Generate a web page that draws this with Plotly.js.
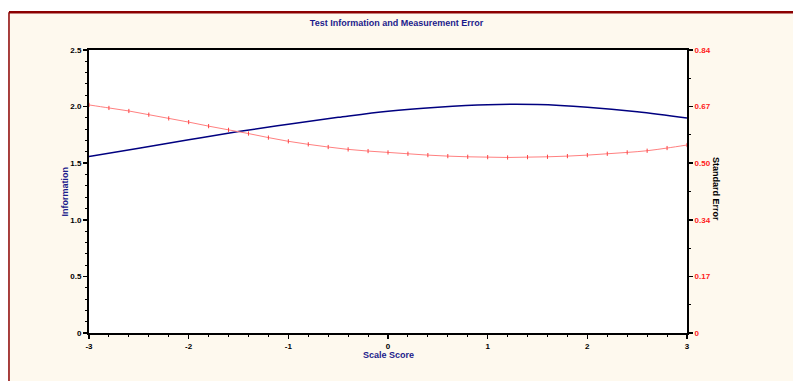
<!DOCTYPE html>
<html>
<head>
<meta charset="utf-8">
<script src="https://cdn.plot.ly/plotly-3.0.1.min.js"></script>
<style>html,body{margin:0;padding:0;background:#fff;}#chart{width:793px;height:381px;}</style>
</head>
<body>
<div id="chart"></div>
<script>
// Information curve (left axis)
const infoX = [-3, -2.5, -2, -1.5, -1, -0.5, 0, 0.5, 1, 1.5, 2, 2.5, 3];
const infoY = [1.56, 1.633, 1.707, 1.78, 1.845, 1.905, 1.96, 1.995, 2.017, 2.018, 1.995, 1.955, 1.90];
// Standard error curve (right axis)
const seX = [-3, -2.8, -2.6, -2.4, -2.2, -2, -1.8, -1.6, -1.4, -1.2, -1, -0.8, -0.6, -0.4, -0.2, 0,
             0.2, 0.4, 0.6, 0.8, 1, 1.2, 1.4, 1.6, 1.8, 2, 2.2, 2.4, 2.6, 2.8, 3];
const seY = [0.677, 0.668, 0.659, 0.648, 0.637, 0.626, 0.614, 0.603, 0.592, 0.580, 0.569, 0.560, 0.552, 0.545, 0.540, 0.536,
             0.532, 0.528, 0.525, 0.523, 0.522, 0.521, 0.522, 0.523, 0.525, 0.528, 0.532, 0.536, 0.541, 0.549, 0.558];
// Tick labels
const xTicks = [-3, -2, -1, 0, 1, 2, 3];
const xTickText = ['-3', '-2', '-1', '0', '1', '2', '3'];
const yTicks = [0, 0.5, 1, 1.5, 2, 2.5];
const yTickText = ['0', '0.5', '1.0', '1.5', '2.0', '2.5'];
const y2Ticks = [0, 0.168, 0.336, 0.504, 0.672, 0.84];
const y2TickText = ['0', '0.17', '0.34', '0.50', '0.67', '0.84'];

const F = 'Liberation Sans Narrow, Liberation Sans, Arial, sans-serif';
const navy = '#1c1c8c';

const traces = [
  {x: infoX, y: infoY, type: 'scatter', mode: 'lines', line: {color: '#000080', width: 1.5, shape: 'spline'}, yaxis: 'y', hoverinfo: 'skip'},
  {x: seX, y: seY, type: 'scatter', mode: 'lines+markers', line: {color: '#ff8080', width: 1, shape: 'spline'},
   marker: {symbol: 'line-ns-open', size: 3, color: '#ff4040', line: {color: '#ff4040', width: 1}}, yaxis: 'y2', hoverinfo: 'skip'}
];

const layout = {
  width: 793, height: 381,
  margin: {l: 89, r: 106, t: 50, b: 48},
  paper_bgcolor: '#fef9ee',
  plot_bgcolor: '#ffffff',
  showlegend: false,
  title: {text: '<b>Test Information and Measurement Error</b>', x: 0.5, xref: 'container', y: 0.94, yref: 'container', yanchor: 'middle',
          font: {family: F, size: 9, color: navy}},
  xaxis: {range: [-3, 3], tickvals: xTicks, ticktext: xTickText, ticks: 'outside', ticklen: 4, tickwidth: 1.5, tickcolor: '#000',
          showline: true, linewidth: 2, linecolor: '#000', mirror: true, showgrid: false, zeroline: false,
          minor: {dtick: 0.2, ticks: 'outside', ticklen: 2, tickcolor: '#000', tickwidth: 1},
          tickfont: {family: F, size: 8, color: '#000', weight: 'bold'}},
  yaxis: {range: [0, 2.5], tickvals: yTicks, ticktext: yTickText, ticks: 'outside', ticklen: 4, tickwidth: 1.5, tickcolor: '#000',
          showline: true, linewidth: 2, linecolor: '#000', showgrid: false, zeroline: false,
          minor: {dtick: 0.1, ticks: 'outside', ticklen: 2, tickcolor: '#000', tickwidth: 1},
          tickfont: {family: F, size: 8, color: '#000', weight: 'bold'}},
  yaxis2: {range: [0, 0.84], overlaying: 'y', side: 'right', tickvals: y2Ticks, ticktext: y2TickText, ticks: 'outside', ticklen: 4, tickwidth: 1.5, tickcolor: '#000',
           showline: true, linewidth: 2, linecolor: '#000', showgrid: false, zeroline: false,
           minor: {dtick: 0.084, ticks: 'outside', ticklen: 2, tickcolor: '#000', tickwidth: 1},
           tickfont: {family: F, size: 8, color: '#ff2020', weight: 'bold'}},
  annotations: [
    {text: '<b>Standard Error</b>', xref: 'paper', yref: 'paper', x: 1.0485, y: 0.509, textangle: 90, showarrow: false,
     font: {family: F, size: 9, color: '#000'}, xanchor: 'center', yanchor: 'middle'},
    {text: '<b>Information</b>', xref: 'paper', yref: 'paper', x: -0.0418, y: 0.5, textangle: -90, showarrow: false,
     font: {family: F, size: 9, color: navy}, xanchor: 'center', yanchor: 'middle'},
    {text: '<b>Scale Score</b>', xref: 'paper', yref: 'paper', x: 0.5, y: -0.078, showarrow: false,
     font: {family: F, size: 9, color: navy}, xanchor: 'center', yanchor: 'middle'}
  ],
  shapes: [
    {type: 'rect', xref: 'paper', yref: 'paper', x0: -0.2, x1: 1.3, y0: 1.13, y1: 1.2, fillcolor: '#ffffff', line: {width: 0}, layer: 'below'},
    {type: 'rect', xref: 'paper', yref: 'paper', x0: -0.2, x1: -0.1338, y0: -0.2, y1: 1.2, fillcolor: '#ffffff', line: {width: 0}, layer: 'below'},
    {type: 'line', xref: 'paper', yref: 'paper', x0: -0.1338, x1: 1.3, y0: 1.133, y1: 1.133, line: {color: '#8b0000', width: 2.5}, layer: 'below'},
    {type: 'line', xref: 'paper', yref: 'paper', x0: -0.1338, x1: -0.1338, y0: -0.2, y1: 1.133, line: {color: '#8b0000', width: 1.5}, layer: 'below'}
  ]
};

Plotly.newPlot('chart', traces, layout, {displayModeBar: false, staticPlot: true});
</script>
</body>
</html>
